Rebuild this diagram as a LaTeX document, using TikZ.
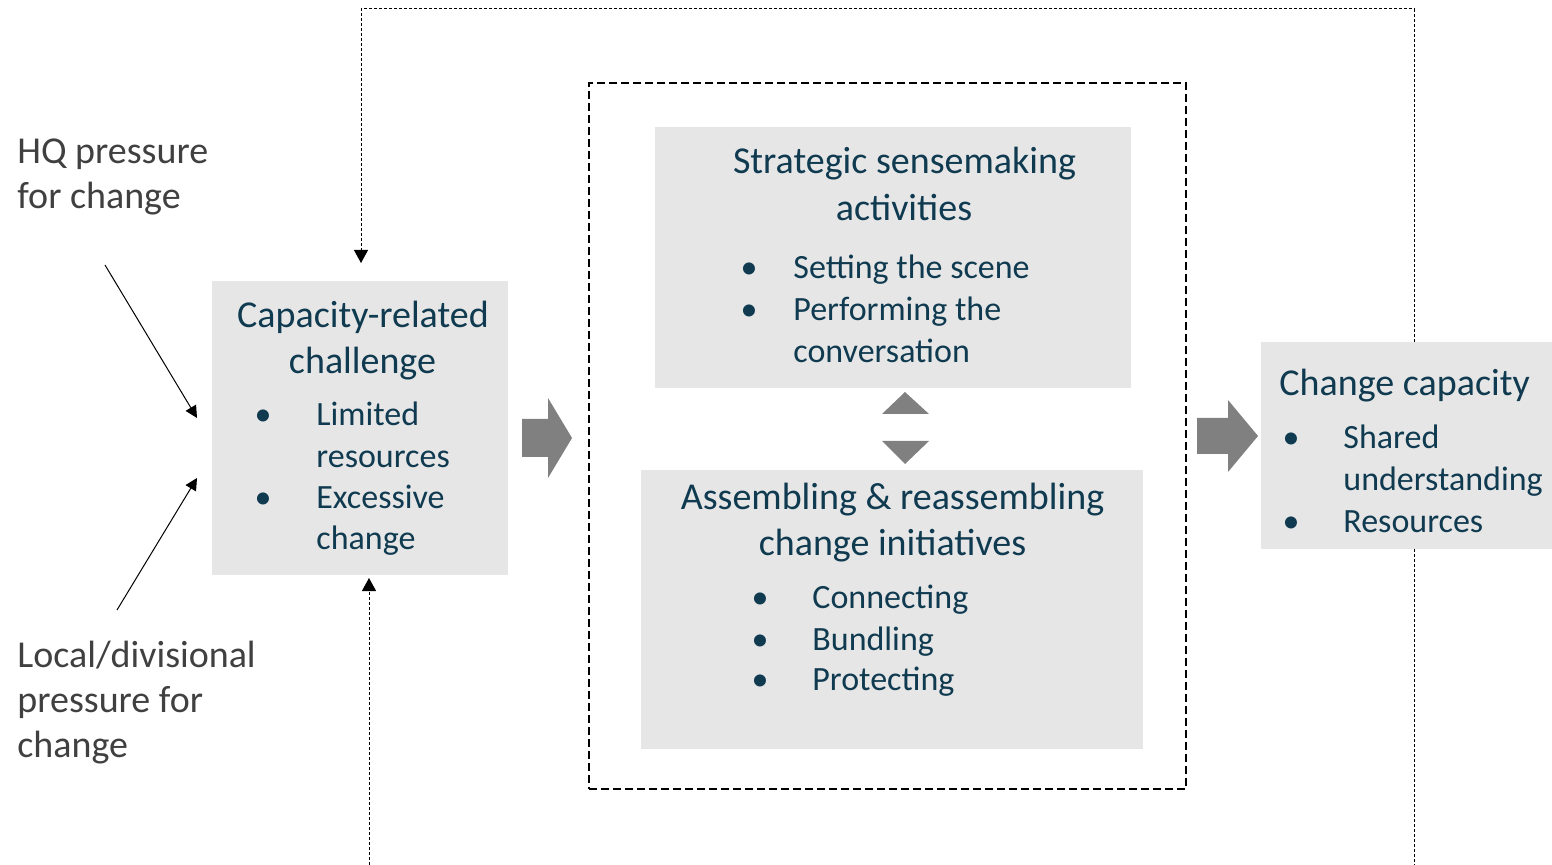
\documentclass[tikz,border=0pt]{standalone}
\usepackage{fontspec}
\setmainfont{Carlito}
\usetikzlibrary{arrows.meta,calc}
\definecolor{txtblue}{HTML}{0F3A50}
\definecolor{txtgrey}{HTML}{404040}
\definecolor{boxgrey}{HTML}{E6E6E6}
\definecolor{arrgrey}{HTML}{808080}
\tikzset{
  greybox/.style={fill=boxgrey, draw=none, inner sep=0pt, outer sep=0pt},
  ttl/.style={font=\fontsize{19}{23}\selectfont, text=txtblue, inner sep=0pt, anchor=base},
  itm/.style={font=\fontsize{17}{20}\selectfont, text=txtblue, inner sep=0pt, anchor=base west},
  dot/.style={font=\fontsize{17}{20}\selectfont, text=txtblue, inner sep=0pt, anchor=base},
  side/.style={font=\fontsize{19}{23}\selectfont, text=txtgrey, inner sep=0pt, anchor=base west},
  fbloop/.style={draw=black, line width=0.5pt, dash pattern=on 1.5pt off 1pt},
  fbtip/.style={-{Triangle[length=6.5pt,width=7pt]}},
  thin arrow/.style={draw=black, line width=0.5pt, -{Triangle[length=6pt,width=6pt]}},
  blockarrow/.style={fill=arrgrey, draw=none},
}
\begin{document}
\begin{tikzpicture}[x=0.5pt,y=-0.5pt]
\useasboundingbox (0,0) rectangle (1552,865);

% boxes
\node[greybox, minimum width=148pt, minimum height=147pt] (cap) at (360,428) {};
\node[greybox, minimum width=238pt, minimum height=130.5pt] (strat) at (893,257.5) {};
\node[greybox, minimum width=251pt, minimum height=139.5pt] (asm) at (892,609.5) {};
\node[greybox, minimum width=145.5pt, minimum height=103.5pt] (cc) at (1406.5,445.5) {};
\node[draw=black, line width=1pt, dash pattern=on 4pt off 2pt, inner sep=0pt,
      minimum width=298.5pt, minimum height=353pt] (frame) at (887.5,436) {};

% feedback loop
\coordinate (tl) at (361,9);
\coordinate (tr) at (1414,9);
\coordinate (bl) at (369,865);
\coordinate (br) at (1414,865);
\draw[fbloop, fbtip] (cc.north -| tr) -- (tr) -- (tl) -- ($(tl |- cap.north)+(0,-18)$);
\draw[fbloop] (cc.south -| br) -- (br);
\draw[fbloop, fbtip] (bl) -- ($(bl |- cap.south)+(0,3)$);

% side pressures
\node[side] (hq1) at (17,164) {HQ pressure};
\node[side] (hq2) at (17,209) {for change};
\node[side] (loc1) at (17,667) {Local/divisional};
\node[side] (loc2) at (17,712) {pressure for};
\node[side] (loc3) at (17,757) {change};
\coordinate (hqs) at (105,265);
\coordinate (hqe) at (197,418);
\coordinate (locs) at (117,610);
\coordinate (loce) at (197,478);
\draw[thin arrow] (hqs) -- (hqe);
\draw[thin arrow] (locs) -- (loce);

% capacity box text
\node[ttl] (capt1) at (363,328) {Capacity-related};
\node[ttl] (capt2) at (362.5,374) {challenge};
\node[dot] (capd1) at (263,426) {•};
\node[itm] (capi1) at (316,426) {Limited};
\node[itm] (capi2) at (316,468) {resources};
\node[dot] (capd2) at (263,509) {•};
\node[itm] (capi3) at (316,509) {Excessive};
\node[itm] (capi4) at (316,550) {change};

% strategic box text
\node[ttl] (st1) at (904.5,174) {Strategic sensemaking};
\node[ttl] (st2) at (904,221) {activities};
\node[dot] (std1) at (749,279) {•};
\node[itm] (sti1) at (793,279) {Setting the scene};
\node[dot] (std2) at (749,321) {•};
\node[itm] (sti2) at (793,321) {Performing the};
\node[itm] (sti3) at (793,363) {conversation};

% assembling box text
\node[ttl] (as1) at (892.5,510) {Assembling \& reassembling};
\node[ttl] (as2) at (892.5,556) {change initiatives};
\node[dot] (asd1) at (760,609) {•};
\node[itm] (asi1) at (812,609) {Connecting};
\node[dot] (asd2) at (760,650) {•};
\node[itm] (asi2) at (812,650) {Bundling};
\node[dot] (asd3) at (760,690) {•};
\node[itm] (asi3) at (812,690) {Protecting};

% change capacity text
\node[ttl, anchor=base west] (cct) at (1279,396) {Change capacity};
\node[dot] (ccd1) at (1291,449) {•};
\node[itm] (cci1) at (1343,449) {Shared};
\node[itm] (cci2) at (1343,491) {understanding};
\node[dot] (ccd2) at (1291,532) {•};
\node[itm] (cci3) at (1343,532) {Resources};

% block arrows
\fill[blockarrow] (522,419) -- (548,419) -- (548,398) -- (572,438) -- (548,478) -- (548,457) -- (522,457) -- cycle;
\fill[blockarrow] (1197,418) -- (1228,418) -- (1228,400) -- (1258,436) -- (1228,472) -- (1228,454) -- (1197,454) -- cycle;

% double triangle
\fill[blockarrow] (882,414) -- (905,392) -- (929,414) -- cycle;
\fill[blockarrow] (882,441) -- (905,464) -- (929,441) -- cycle;
\end{tikzpicture}
\end{document}
